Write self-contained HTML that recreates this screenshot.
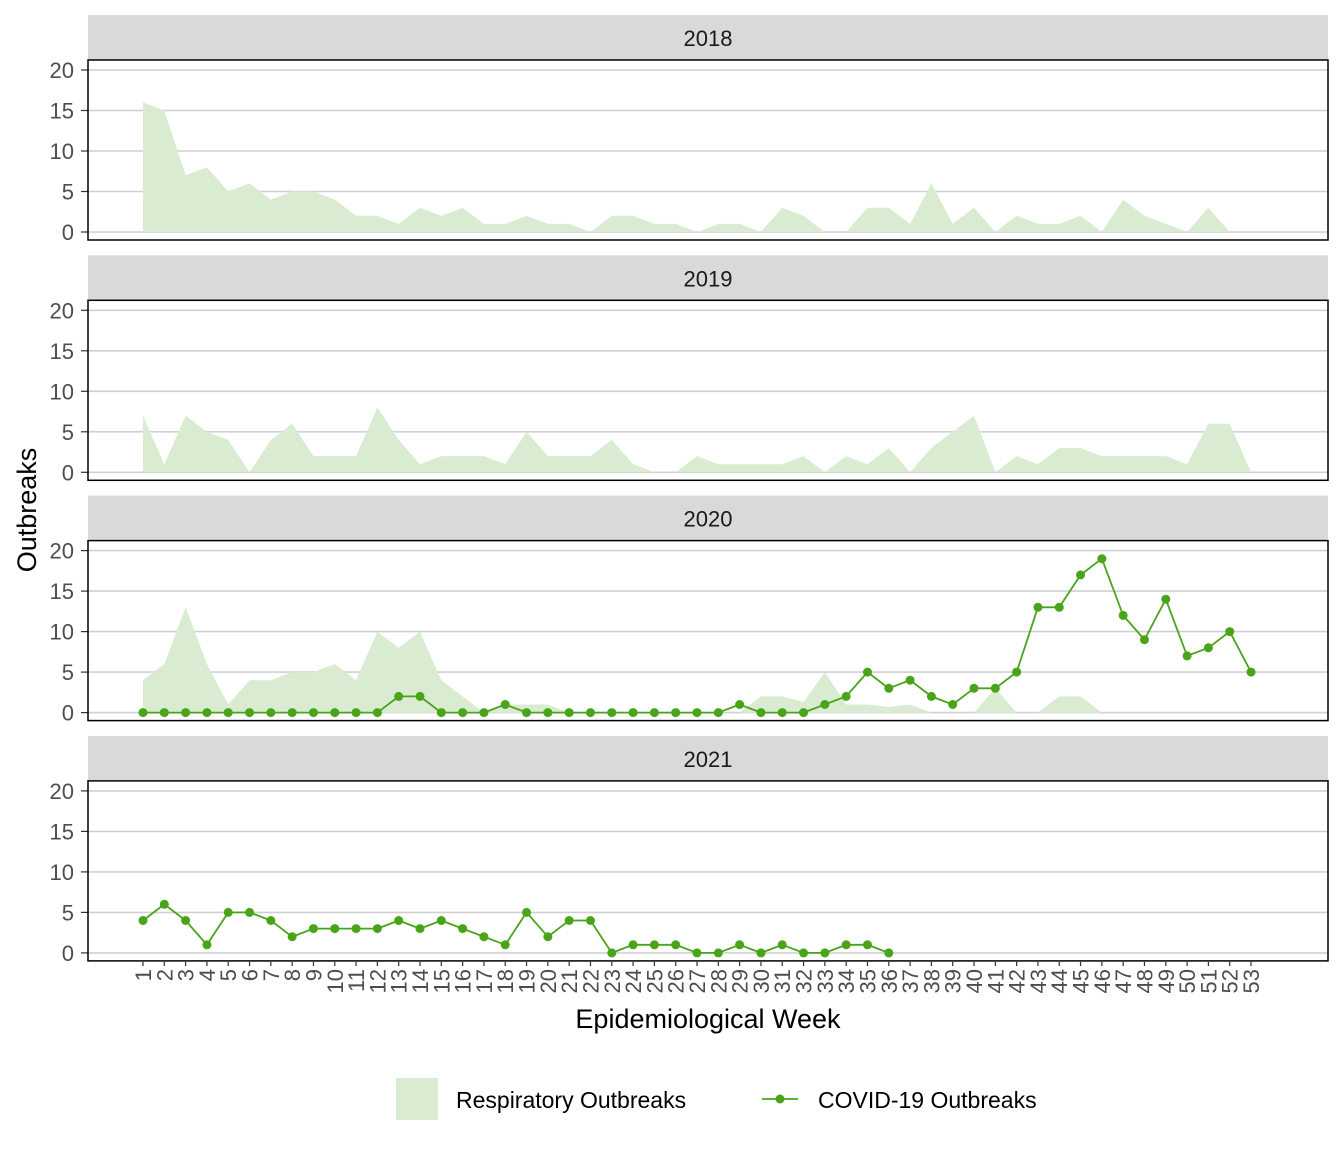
<!DOCTYPE html>
<html><head><meta charset="utf-8"><style>
html,body{margin:0;padding:0;background:#fff;width:1344px;height:1152px;overflow:hidden}
svg text{font-family:"Liberation Sans",Arial,sans-serif}
</style></head><body>
<svg id="s" width="1344" height="1152" xmlns="http://www.w3.org/2000/svg"></svg>
<script>
const resp=[
[16,15,7,8,5,6,4,5,5,4,2,2,1,3,2,3,1,1,2,1,1,0,2,2,1,1,0,1,1,0,3,2,0,0,3,3,1,6,1,3,0,2,1,1,2,0,4,2,1,0,3,0],
[7,1,7,5,4,0,4,6,2,2,2,8,4,1,2,2,2,1,5,2,2,2,4,1,0,0,2,1,1,1,1,2,0,2,1,3,0,3,5,7,0,2,1,3,3,2,2,2,2,1,6,6,0],
[4,6,13,6,1,4,4,5,5,6,4,10,8,10,4,2,0,1,1,1,0,0,0,0,0,0,0,0,0,2,2,1.3,5,1,1,0.7,1,0,0,0,3,0,0,2,2,0],
null];
const cov=[null,null,
[0,0,0,0,0,0,0,0,0,0,0,0,2,2,0,0,0,1,0,0,0,0,0,0,0,0,0,0,1,0,0,0,1,2,5,3,4,2,1,3,3,5,13,13,17,19,12,9,14,7,8,10,5],
[4,6,4,1,5,5,4,2,3,3,3,3,4,3,4,3,2,1,5,2,4,4,0,1,1,1,0,0,1,0,1,0,0,1,1,0]];
const years=["2018","2019","2020","2021"];
const X=w=>143+(w-1)*21.308;
let h='';
const G="#4aa41a",F="#d9ecd2";
for(let p=0;p<4;p++){
 const off=p*240.3;
 const top=60+off, bot=240+off, z=232+off;
 const Y=v=>z-v*8.1;
 h+=`<rect x="88" y="${15+off}" width="1240" height="45" fill="#d9d9d9"/>`;
 h+=`<text x="708" y="${46+off}" font-size="22" text-anchor="middle" fill="#1a1a1a">${years[p]}</text>`;
 for(let v=0;v<=20;v+=5){h+=`<line x1="88" x2="1328" y1="${Y(v)}" y2="${Y(v)}" stroke="#d0d0d0" stroke-width="1.6"/>`;
  h+=`<text x="74" y="${Y(v)+8}" font-size="22" text-anchor="end" fill="#4d4d4d">${v}</text>`;
  h+=`<line x1="81" x2="88" y1="${Y(v)}" y2="${Y(v)}" stroke="#333" stroke-width="1.2"/>`;}
 if(resp[p]){let d=`M${X(1)},${Y(0)}`;resp[p].forEach((v,i)=>d+=`L${X(i+1)},${Y(v)}`);d+=`L${X(resp[p].length)},${Y(0)}Z`;h+=`<path d="${d}" fill="${F}"/>`;}
 if(cov[p]){let d='';cov[p].forEach((v,i)=>d+=(i?'L':'M')+X(i+1)+','+Y(v));h+=`<path d="${d}" fill="none" stroke="${G}" stroke-width="1.8"/>`;
  cov[p].forEach((v,i)=>h+=`<circle cx="${X(i+1)}" cy="${Y(v)}" r="4.5" fill="${G}"/>`);}
 h+=`<rect x="88" y="${top}" width="1240" height="${bot-top}" fill="none" stroke="#000" stroke-width="1.5"/>`;
}
for(let w=1;w<=53;w++){const x=X(w);h+=`<line x1="${x}" x2="${x}" y1="960" y2="966" stroke="#333" stroke-width="1.2"/>`;
 h+=`<text transform="translate(${x+8},969) rotate(-90)" font-size="22" text-anchor="end" fill="#4d4d4d">${w}</text>`;}
h+=`<text transform="translate(36,510) rotate(-90)" font-size="27" text-anchor="middle" fill="#000">Outbreaks</text>`;
h+=`<text x="708" y="1028" font-size="27" text-anchor="middle" fill="#000">Epidemiological Week</text>`;
h+=`<rect x="396" y="1078" width="42" height="42" fill="${F}"/><text x="456" y="1108" font-size="23" fill="#000">Respiratory Outbreaks</text>`;
h+=`<line x1="762" x2="798" y1="1099" y2="1099" stroke="${G}" stroke-width="1.8"/><circle cx="780" cy="1099" r="4.5" fill="${G}"/><text x="818" y="1108" font-size="23" fill="#000">COVID-19 Outbreaks</text>`;
document.getElementById('s').innerHTML=h;
</script>
</body></html>
